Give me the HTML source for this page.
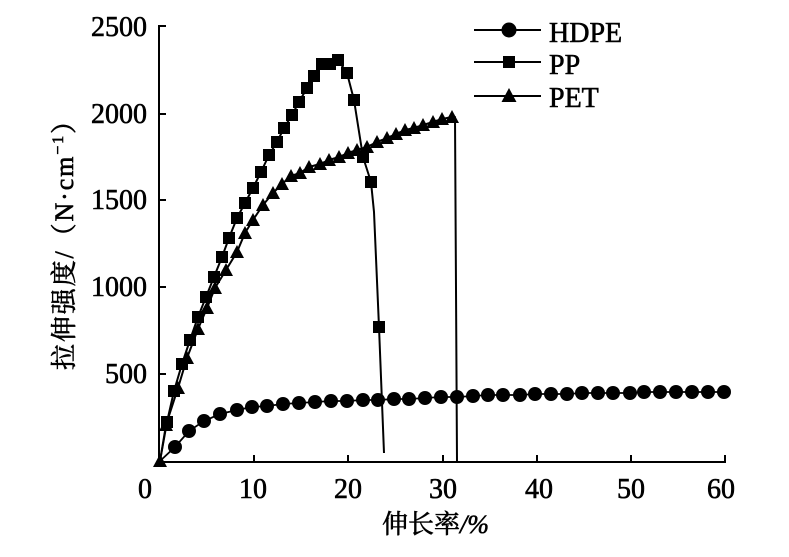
<!DOCTYPE html>
<html><head><meta charset="utf-8"><style>
html,body{margin:0;padding:0;background:#fff;}
svg{display:block;}
text{font-family:"Liberation Serif","Noto Serif CJK SC",serif;fill:#000;stroke:#000;stroke-width:0.6px;}
</style></head><body>
<svg width="789" height="557" viewBox="0 0 789 557" xmlns="http://www.w3.org/2000/svg">
<defs>
<marker id="circ" markerWidth="16" markerHeight="16" refX="8" refY="8" markerUnits="userSpaceOnUse" orient="0"><circle cx="8" cy="8" r="7" fill="#000"/></marker>
<marker id="sq" markerWidth="14" markerHeight="14" refX="7" refY="7" markerUnits="userSpaceOnUse" orient="0"><rect x="1" y="1" width="12" height="12" fill="#000"/></marker>
<marker id="tri" markerWidth="16" markerHeight="16" refX="8" refY="8" markerUnits="userSpaceOnUse" orient="0"><path d="M8,1 L15,14 L1,14 Z" fill="#000"/></marker>
</defs>
<rect width="789" height="557" fill="#fff"/>

<g stroke="#000" stroke-width="2" fill="none">
<line x1="159" y1="25" x2="159" y2="462"/>
<line x1="158" y1="462" x2="726" y2="462"/>
<line x1="159" y1="26" x2="166" y2="26"/>
<line x1="159" y1="114" x2="166" y2="114"/>
<line x1="159" y1="200" x2="166" y2="200"/>
<line x1="159" y1="287" x2="166" y2="287"/>
<line x1="159" y1="374" x2="166" y2="374"/>
<line x1="254" y1="462" x2="254" y2="455"/>
<line x1="348" y1="462" x2="348" y2="455"/>
<line x1="443" y1="462" x2="443" y2="455"/>
<line x1="537" y1="462" x2="537" y2="455"/>
<line x1="631" y1="462" x2="631" y2="455"/>
<line x1="725" y1="462" x2="725" y2="455"/>
</g>

<g font-size="28" text-anchor="end">
<text x="147" y="36">2500</text>
<text x="147" y="123">2000</text>
<text x="147" y="209">1500</text>
<text x="147" y="296">1000</text>
<text x="147" y="383">500</text>
</g>
<g font-size="28" text-anchor="middle">
<text x="145" y="498">0</text>
<text x="253" y="498">10</text>
<text x="348" y="498">20</text>
<text x="443" y="498">30</text>
<text x="539" y="498">40</text>
<text x="631" y="498">50</text>
<text x="721" y="498">60</text>
</g>

<text x="382" y="533" font-size="26">伸长率<tspan font-style="italic">/%</tspan></text>
<text transform="translate(73,370) rotate(-90)" font-size="26" textLength="262" lengthAdjust="spacing">拉伸强度/（N·cm<tspan font-size="16" dy="-10">−1</tspan><tspan dy="10">）</tspan></text>

<polyline fill="none" stroke="#000" stroke-width="1.8" points="160,461 175,447 189,431 204,421 220,414 237,410 252,407 267,406 283,404 299,403 315,402 331,401 347,401 363,400 378,400 394,399 409,399 425,398 441,397 457,397 473,396 488,395 503,395 520,395 535,394 551,394 567,394 582,393 598,393 613,393 630,393 644,392 660,392 676,392 692,392 708,392 724,392"/>
<polyline fill="none" stroke="none" marker-start="url(#circ)" marker-mid="url(#circ)" marker-end="url(#circ)" points="175,447 189,431 204,421 220,414 237,410 252,407 267,406 283,404 299,403 315,402 331,401 347,401 363,400 378,400 394,399 409,399 425,398 441,397 457,397 473,396 488,395 503,395 520,395 535,394 551,394 567,394 582,393 598,393 613,393 630,393 644,392 660,392 676,392 692,392 708,392 724,392"/>

<polyline fill="none" stroke="#000" stroke-width="2" stroke-linejoin="round" points="160,461 167,422 174,391 182,364 190,340 198,317 206,297 214,277 222,257 229,238 237,218 245,203 253,188 261,172 269,155 277,142 284,128 292,115 299,102 307,88 314,76 322,64 330,64 338,60 347,73 354,100 363,157 371,182 374,212 379,327 384,453"/>
<polyline fill="none" stroke="none" marker-start="url(#sq)" marker-mid="url(#sq)" marker-end="url(#sq)" points="167,422 174,391 182,364 190,340 198,317 206,297 214,277 222,257 229,238 237,218 245,203 253,188 261,172 269,155 277,142 284,128 292,115 299,102 307,88 314,76 322,64 330,64 338,60 347,73 354,100 363,157 371,182 379,327"/>

<polyline fill="none" stroke="#000" stroke-width="2" stroke-linejoin="round" points="160,461 166,425 178,388 187,358 198,329 207,308 215,288 226,270 237,252 245,233 253,220 263,205 273,193 282,184 291,176 300,173 309,167 320,164 329,160 339,157 348,153 357,150 367,147 377,142 387,138 396,134 405,130 414,128 423,125 433,122 442,119 452,117 455,117 457,461"/>
<polyline fill="none" stroke="none" marker-start="url(#tri)" marker-mid="url(#tri)" marker-end="url(#tri)" points="160,461 166,425 178,388 187,358 198,329 207,308 215,288 226,270 237,252 245,233 253,220 263,205 273,193 282,184 291,176 300,173 309,167 320,164 329,160 339,157 348,153 357,150 367,147 377,142 387,138 396,134 405,130 414,128 423,125 433,122 442,119 452,117"/>

<g stroke="#000" stroke-width="2">
<line x1="474" y1="30" x2="541" y2="30"/>
<line x1="474" y1="62" x2="541" y2="62"/>
<line x1="474" y1="96" x2="541" y2="96"/>
</g>
<circle cx="509" cy="30" r="7.5" fill="#000"/>
<rect x="503" y="56" width="12" height="12" fill="#000"/>
<path d="M509,88 L516.5,102 L501.5,102 Z" fill="#000"/>
<g font-size="28">
<text x="549" y="42">HDPE</text>
<text x="549" y="74">PP</text>
<text x="549" y="107">PET</text>
</g>
</svg>
</body></html>
